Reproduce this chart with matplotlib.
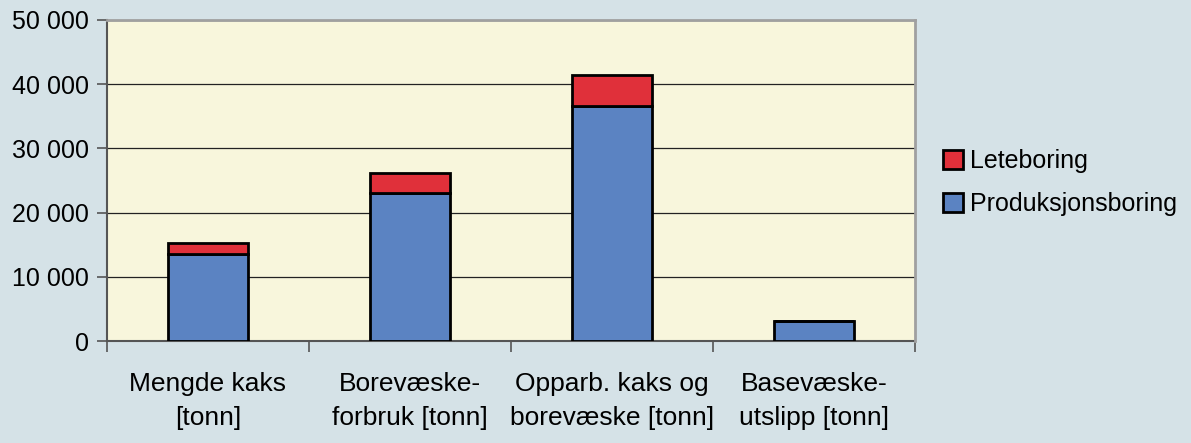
import matplotlib.pyplot as plt
import numpy as np

categories = ["Mengde kaks\n[tonn]", "Borevæske-\nforbruk [tonn]",
              "Opparb. kaks og\nborevæske [tonn]", "Basevæske-\nutslipp [tonn]"]
produksjon = [13500, 23000, 36600, 3200]
leteboring = [1700, 3100, 4800, 0]
yticks = [0, 10000, 20000, 30000, 40000, 50000]
ytick_labels = ["0", "10 000", "20 000", "30 000", "40 000", "50 000"]

plt.rcParams["font.family"] = ["Liberation Sans", "DejaVu Sans"]

fig = plt.figure(figsize=(11.91, 4.43), dpi=100, facecolor="#d5e2e7")
ax = fig.add_axes([0.0898, 0.230, 0.6785, 0.725])
ax.set_facecolor("#f8f6dc")

x = np.arange(len(categories))
ax.bar(x, produksjon, width=0.4, color="#5b83c2", edgecolor="black",
       linewidth=2, label="Produksjonsboring", zorder=3)
ax.bar(x, leteboring, width=0.4, bottom=produksjon, color="#e0303a",
       edgecolor="black", linewidth=2, label="Leteboring", zorder=3)

ax.set_xlim(-0.5, len(categories) - 0.5)
ax.set_ylim(0, 50000)
ax.set_yticks(yticks)
ax.set_yticklabels(ytick_labels, fontsize=18)
ax.yaxis.grid(True, color="#222222", linewidth=0.9, zorder=1)
ax.set_axisbelow(True)

# category labels sit between the tick marks
ax.set_xticks(np.arange(len(categories) + 1) - 0.5)
ax.set_xticklabels([])
ax.set_xticks(x, minor=True)
ax.set_xticklabels(categories, minor=True, fontsize=19, linespacing=1.55)
ax.tick_params(axis="x", which="minor", length=0, pad=22)
ax.tick_params(axis="x", which="major", length=8, width=1.2, color="#555555")
ax.tick_params(axis="y", length=7, width=1.2, color="#555555", pad=6)

for s in ["top", "right"]:
    ax.spines[s].set_color("#a0a0a0")
    ax.spines[s].set_linewidth(2)
    ax.spines[s].set_zorder(4)
ax.spines["left"].set_color("#555555")
ax.spines["bottom"].set_color("#555555")
ax.spines["left"].set_linewidth(1.5)
ax.spines["bottom"].set_linewidth(1.5)

handles, labels = ax.get_legend_handles_labels()
fig.legend(handles[::-1], labels[::-1], loc="center left",
           bbox_to_anchor=(0.792, 0.588), frameon=False, fontsize=18,
           handlelength=0.8, handleheight=0.8, handletextpad=0.25,
           labelspacing=0.75, borderaxespad=0, borderpad=0)

fig.savefig("out.png", dpi=100, facecolor=fig.get_facecolor())
